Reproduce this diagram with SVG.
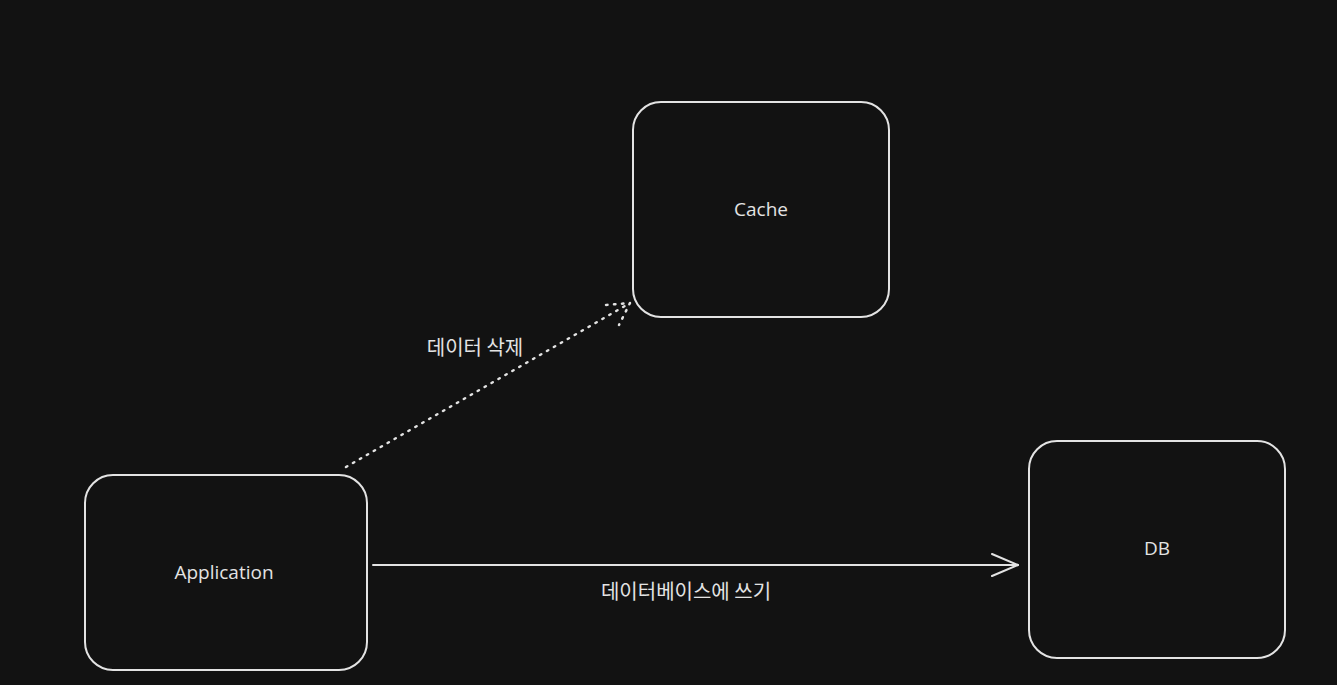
<svg xmlns="http://www.w3.org/2000/svg" width="1337" height="685" viewBox="0 0 1337 685">
<style>
.box{fill:none;stroke:#e3e3e3;stroke-width:2}
.lbl{fill:#e3e3e3;font-family:"Open Sans","Liberation Sans",sans-serif;font-size:19px;text-anchor:middle;dominant-baseline:central}
.kr{fill:#e3e3e3;font-family:"Noto Sans CJK KR","Noto Sans",sans-serif;font-size:20px;text-anchor:middle;dominant-baseline:central}
.ln{fill:none;stroke:#e3e3e3;stroke-width:2;stroke-linecap:round;stroke-linejoin:round}
.dot{stroke-width:2.5;stroke-dasharray:1.5 6.5}
</style>
<rect width="1337" height="685" fill="#121212"/>
<g id="cache"><rect class="box" x="633" y="102" width="256" height="215" rx="28"/><text class="lbl" x="761" y="209">Cache</text></g>
<g id="application"><rect class="box" x="85" y="475" width="282" height="195" rx="28"/><text class="lbl" x="224" y="572">Application</text></g>
<g id="db"><rect class="box" x="1029" y="441" width="256" height="217" rx="28"/><text class="lbl" x="1157" y="548">DB</text></g>
<g id="connectors">
<path class="ln dot" d="M346 467 L630 303"/>
<path class="ln dot" d="M606 305 L630 303 L619 325"/>
<text class="kr" x="475" y="346">데이터 삭제</text>
<path class="ln" d="M373 565 L1018 565"/>
<path class="ln" d="M992 554 L1018 565 L992 576"/>
<text class="kr" x="686" y="590">데이터베이스에 쓰기</text>
</g>
</svg>
